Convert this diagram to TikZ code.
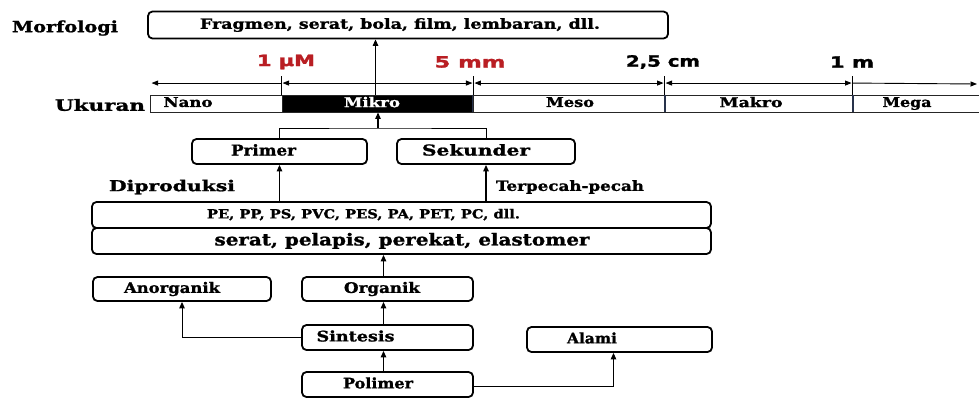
\documentclass[tikz,border=0pt]{standalone}
\usepackage{fontspec}
\setmainfont[BoldFeatures={FakeBold=1.2}]{DejaVu Serif}
\newfontfamily\lblfont[BoldFeatures={FakeBold=1.5}]{DejaVu Sans}
\usetikzlibrary{arrows.meta,calc}
\newsavebox\fitbox
\newcommand\fitw[2]{\sbox\fitbox{#2}\pgfmathsetmacro\fitr{#1/\the\wd\fitbox}\scalebox{\fitr}[1]{\usebox\fitbox}}
\newcommand\tx[3]{\makebox[0pt]{\hspace*{#1pt}\hspace*{#1pt}\vphantom{Ag}\fitw{#2}{#3}}}
\definecolor{redlbl}{RGB}{185,30,35}
\definecolor{divider}{RGB}{40,50,75}
\tikzset{
  box/.style={draw, line width=1.8pt, rounded corners=4.5pt, inner sep=0pt, font=\bfseries\fontsize{14.5}{15}\selectfont},
  seg/.style={draw=black!85, line width=0.9pt, minimum height=17pt, inner sep=0pt, font=\bfseries\fontsize{13.5}{14}\selectfont},
  lbl/.style={inner sep=0pt, font=\bfseries\fontsize{15.5}{17}\selectfont},
  dimlbl/.style={inner sep=0pt, font=\lblfont\bfseries\fontsize{15.5}{17}\selectfont},
  arr/.style={-{Triangle[length=6.5pt,width=5.5pt]}, line width=1.2pt},
  tipL/.style={{Triangle[length=6.5pt,width=5pt]}-, line width=0.9pt},
  tipR/.style={-{Triangle[length=6.5pt,width=5pt]}, line width=0.9pt},
  tipLR/.style={{Triangle[length=6.5pt,width=5pt]}-{Triangle[length=6.5pt,width=5pt]}, line width=0.9pt}
}
\begin{document}
\begin{tikzpicture}[x=1pt,y=-1pt]
\fill[white] (0,0) rectangle (979,400);
\useasboundingbox (0,0) rectangle (979,400);

% Morfologi
\node[lbl] (morflbl) at (65,28) {\fitw{106}{Morfologi}};
\node[box, font=\bfseries\fontsize{14}{15}\selectfont, minimum width=520pt, minimum height=27pt] (morf) at (408,25) {\tx{-8}{400}{Fragmen, serat, bola, film, lembaran, dll.}};

% scale bar
\node[lbl] (ukr) at (100,105) {\fitw{90}{Ukuran}};
\node[seg, minimum width=132pt] (nano) at (216,103.5) {\tx{-28}{49}{Nano}};
\node[seg, fill=black, text=white, minimum width=191pt] (mikro) at (377.5,103.5) {\tx{-5.5}{56}{Mikro}};
\node[seg, minimum width=192pt] (meso) at (569,103.5) {\tx{1}{48}{Meso}};
\node[seg, minimum width=188pt] (makro) at (759,103.5) {\tx{-8}{63}{Makro}};
\node[seg, minimum width=140pt] (mega) at (923,103.5) {\tx{-16}{49}{Mega}};
\draw[divider, line width=1.3pt] (meso.north west) -- (meso.south west);
\draw[divider, line width=2pt] (makro.north west) -- (makro.south west);
\draw[divider, line width=2pt] (mega.north west) -- (mega.south west);

% ticks
\draw[line width=1pt] (mikro.north west) -- ++(0,-19);
\draw[line width=1pt] (mikro.north east) -- ++(0,-19);
\draw[line width=1pt] (makro.north west) -- ++(0,-19);
\draw[line width=1pt] (mega.north west) -- ++(0,-19);

% dimension lines
\coordinate (d0) at ($(nano.north west)+(2,-11.5)$);
\coordinate (d1) at ($(mikro.north west)+(0,-11.5)$);
\coordinate (d2) at ($(mikro.north east)+(0,-11.5)$);
\coordinate (d3) at ($(makro.north west)+(0,-11.5)$);
\coordinate (d4) at ($(mega.north west)+(0,-11.5)$);
\coordinate (d5) at (977,84);
\draw[tipL] (d0) -- (d1);
\draw[tipLR] ($(d1)+(1,0)$) -- ($(d2)+(-1,0)$);
\draw[tipLR] ($(d2)+(1,0)$) -- ($(d3)+(-1,0)$);
\draw[tipLR] ($(d3)+(1,0)$) -- ($(d4)+(-1,0)$);
\draw[tipR] (d4) -- (d5);

\node[dimlbl, text=redlbl] (l1) at (286,62) {\fitw{58}{1 µM}};
\node[dimlbl, text=redlbl] (l2) at (470,62) {\fitw{71}{5 mm}};
\node[dimlbl] (l3) at (663,62) {\fitw{74}{2,5 cm}};
\node[dimlbl] (l4) at (852,62) {\fitw{44}{1 m}};

\draw[arr] ($(mikro.north)+(-2,0)$) -- ($(mikro.north |- morf.south)+(-2,0)$);

% Primer / Sekunder
\node[box, font=\bfseries\fontsize{15}{16}\selectfont, minimum width=175pt, minimum height=25pt] (primer) at (279.5,151.5) {\tx{-16}{65}{Primer}};
\node[box, font=\bfseries\fontsize{15}{16}\selectfont, minimum width=178pt, minimum height=25pt] (sekunder) at (486,151.5) {\tx{-10}{108}{Sekunder}};
\coordinate (br) at (378,128);
\draw[line width=0.9pt] (primer.north) |- (br) -| (sekunder.north);
\draw[arr] (br) -- (br |- mikro.south);

\node[lbl, font=\bfseries\fontsize{15}{16}\selectfont] (dip) at (172,187) {\fitw{126}{Diproduksi}};
\node[lbl, font=\bfseries\fontsize{14}{16}\selectfont] (ter) at (570,187) {\fitw{148}{Terpecah-pecah}};

% polymer type boxes
\node[box, font=\bfseries\fontsize{12.5}{14}\selectfont, minimum width=619pt, minimum height=26pt] (pe) at (401.5,215) {\tx{-38}{313}{PE, PP, PS, PVC, PES, PA, PET, PC, dll.}};
\node[box, font=\bfseries\fontsize{16.5}{17}\selectfont, minimum width=619pt, minimum height=26pt] (serat) at (401.5,241) {\tx{0.5}{375}{serat, pelapis, perekat, elastomer}};

\draw[arr] (primer.south |- pe.north) -- (primer.south);
\draw[arr] (sekunder.south |- pe.north) -- (sekunder.south);

% lower part
\node[box, minimum width=178pt, minimum height=24pt] (anorganik) at (182,289) {\tx{-10}{96}{Anorganik}};
\node[box, minimum width=171pt, minimum height=24pt] (organik) at (387.5,289) {\tx{-5.5}{76}{Organik}};
\node[box, minimum width=171pt, minimum height=25pt] (sintesis) at (387.5,337.5) {\tx{-32}{78}{Sintesis}};
\node[box, minimum width=171pt, minimum height=25pt] (polimer) at (387.5,384.5) {\tx{-9.5}{70}{Polimer}};
\node[box, minimum width=185pt, minimum height=25pt] (alami) at (619.5,339.5) {\tx{-27.5}{50}{Alami}};

\draw[arr] ($(organik.north)+(-4,0)$) -- ($(organik.north |- serat.south)+(-4,0)$);
\draw[arr] ($(sintesis.north)+(-4,0)$) -- ($(organik.south)+(-4,0)$);
\draw[arr] ($(polimer.north)+(-4,0)$) -- ($(sintesis.south)+(-4,0)$);
\draw[line width=1pt, -{Triangle[length=6.5pt,width=5.5pt]}] (sintesis.west) -| (anorganik.south);
\draw[line width=1pt, -{Triangle[length=6.5pt,width=5.5pt]}] ($(polimer.east)+(0,2)$) -| ($(alami.south)+(-6,0)$);
\end{tikzpicture}
\end{document}
